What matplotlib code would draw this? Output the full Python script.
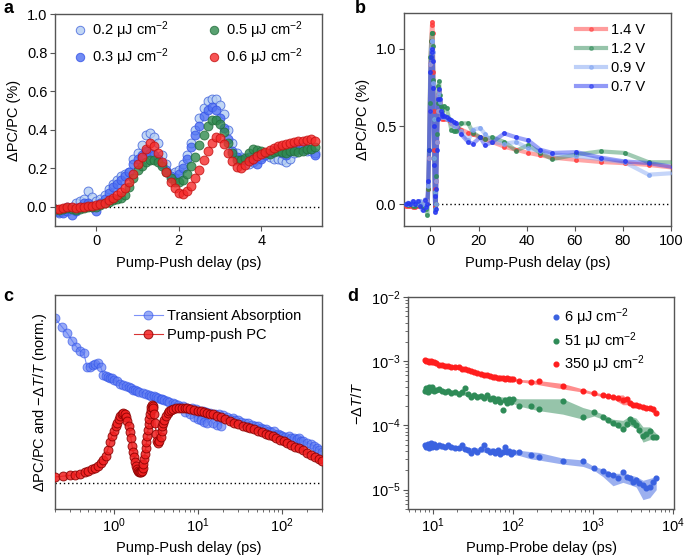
import numpy as np
import matplotlib
matplotlib.use("Agg")
import matplotlib.pyplot as plt
from matplotlib.lines import Line2D

plt.rcParams['font.family'] = ['Liberation Sans', 'DejaVu Sans']
plt.rcParams['mathtext.fontset'] = 'custom'
plt.rcParams['mathtext.rm'] = 'Liberation Sans'
plt.rcParams['mathtext.it'] = 'Liberation Sans:italic'
plt.rcParams['mathtext.bf'] = 'Liberation Sans:bold'
plt.rcParams['font.size'] = 10.5
plt.rcParams['axes.unicode_minus'] = True

# ---------------- Panel a data ----------------
a_delay = np.round(np.arange(-1.0, 5.31, 0.1), 2)
a_02 = [-0.01, -0.03, -0.02, 0.0, 0.0, 0.02, 0.03, 0.04, 0.08, 0.05,
        0.03, 0.04, 0.06, 0.09, 0.12, 0.14, 0.16, 0.17, 0.18, 0.25,
        0.28, 0.32, 0.37, 0.38, 0.36, 0.33, 0.27, 0.22, 0.17, 0.18,
        0.19, 0.22, 0.27, 0.33, 0.40, 0.46, 0.51, 0.55, 0.56, 0.56,
        0.53, 0.48, 0.40, 0.33, 0.28, 0.26, 0.24, 0.22, 0.23, 0.25,
        0.26, 0.27, 0.26, 0.25, 0.25, 0.24, 0.23, 0.25, 0.28, 0.30,
        0.30, 0.29, 0.29, 0.28]
a_03 = [-0.02, -0.025, -0.03, -0.02, -0.045, -0.02, 0.0, 0.02, 0.02, 0.0,
        -0.02, 0.02, 0.04, 0.07, 0.10, 0.12, 0.14, 0.16, 0.18, 0.22,
        0.25, 0.27, 0.29, 0.28, 0.27, 0.25, 0.22, 0.19, 0.16, 0.15,
        0.17, 0.20, 0.25, 0.31, 0.37, 0.42, 0.47, 0.50, 0.52, 0.50,
        0.46, 0.41, 0.35, 0.29, 0.26, 0.25, 0.24, 0.26, 0.24, 0.22,
        0.25, 0.27, 0.28, 0.29, 0.30, 0.28, 0.27, 0.29, 0.30, 0.31,
        0.31, 0.30, 0.30, 0.27]
a_05 = [-0.01, -0.015, -0.01, -0.005, -0.01, -0.015, -0.01, -0.005, 0.0, 0.0,
        0.0, 0.01, 0.02, 0.025, 0.035, 0.04, 0.045, 0.06, 0.10, 0.15,
        0.19, 0.21, 0.23, 0.24, 0.24, 0.23, 0.21, 0.18, 0.15, 0.13,
        0.13, 0.14, 0.17, 0.21, 0.26, 0.32, 0.37, 0.42, 0.45, 0.45,
        0.43, 0.39, 0.33, 0.28, 0.245, 0.24, 0.255, 0.28, 0.30, 0.295,
        0.29, 0.28, 0.275, 0.285, 0.29, 0.285, 0.28, 0.29, 0.29, 0.285,
        0.29, 0.30, 0.30, 0.31]
a_06 = [-0.01, -0.01, -0.005, 0.0, 0.0, -0.005, 0.0, 0.0, 0.005, 0.005,
        0.01, 0.015, 0.02, 0.035, 0.045, 0.06, 0.075, 0.095, 0.13, 0.17,
        0.22, 0.26, 0.30, 0.33, 0.315, 0.28, 0.23, 0.18, 0.13, 0.095,
        0.072, 0.065, 0.08, 0.11, 0.15, 0.19, 0.24, 0.29, 0.33, 0.36,
        0.355, 0.325, 0.28, 0.235, 0.205, 0.20, 0.215, 0.235, 0.25, 0.265,
        0.275, 0.285, 0.295, 0.305, 0.315, 0.32, 0.325, 0.33, 0.335, 0.34,
        0.34, 0.345, 0.35, 0.34]

# ---------------- Panel b data ----------------
b_delay = [-10.3, -9.3, -8.3, -7.3, -6.3, -5.3, -4.3, -3.3, -2.3,
           -1.8, -1.3, -0.9, -0.6, -0.3,
           0.0, 0.3, 0.6, 0.8, 1.0, 1.2, 1.4, 1.6, 1.8, 2.0, 2.2, 2.4, 2.7, 3.0, 3.3, 3.6, 3.9, 4.2, 4.6, 5.0,
           5.7, 6.7, 7.7, 8.7, 9.7, 10.7,
           12.7, 15.7, 17.7, 20.7, 22.7, 25.7,
           30.7, 35.7, 40.7, 45.7, 50.7,
           60.7, 70.7, 80.7, 90.7, 100.7]
b_14 = [-0.01, -0.01, -0.01, -0.015, -0.02, -0.01, -0.005, 0.0, 0.0,
        0.0, 0.02, 0.1, 0.3, 0.6,
        0.9, 1.05, 1.15, 1.17, 1.1, 0.85, 0.6, 0.35, 0.1, -0.02, 0.0, 0.15, 0.4, 0.6, 0.7, 0.72, 0.66, 0.6, 0.56, 0.55,
        0.55, 0.55, 0.54, 0.52, 0.51, 0.50,
        0.48, 0.46, 0.45, 0.43, 0.42, 0.40,
        0.37, 0.35, 0.33, 0.315, 0.30,
        0.285, 0.272, 0.264, 0.253, 0.236]
b_12 = [0.0, -0.005, 0.0, -0.01, -0.01, 0.0, 0.0, -0.02, -0.01,
        -0.03, -0.07, 0.1, 0.35, 0.65,
        0.95, 1.05, 1.1, 1.1, 1.02, 0.8, 0.55, 0.3, 0.08, -0.03, 0.0, 0.18, 0.45, 0.65, 0.76, 0.79, 0.7, 0.63, 0.6, 0.62,
        0.63, 0.62, 0.55, 0.48, 0.47, 0.47,
        0.52, 0.52, 0.46, 0.43, 0.42, 0.43,
        0.40, 0.345, 0.38, 0.33, 0.29,
        0.32, 0.34, 0.33, 0.27, 0.27]
b_09 = [0.0, 0.0, 0.01, 0.0, 0.01, 0.0, 0.02, 0.0, 0.0,
        -0.02, 0.02, 0.12, 0.3, 0.6,
        0.9, 1.0, 1.05, 1.05, 0.98, 0.78, 0.55, 0.3, 0.08, -0.03, 0.0, 0.15, 0.4, 0.6, 0.7, 0.72, 0.66, 0.6, 0.57, 0.56,
        0.56, 0.55, 0.55, 0.52, 0.50, 0.50,
        0.47, 0.41, 0.48, 0.49, 0.45, 0.40,
        0.39, 0.40, 0.36, 0.34, 0.32,
        0.31, 0.29, 0.27, 0.19, 0.20]
b_07 = [0.0, 0.01, 0.0, 0.02, 0.0, 0.02, -0.01, -0.04, 0.03,
        -0.02, 0.0, 0.15, 0.35, 0.6,
        0.85, 0.95, 1.0, 0.98, 0.92, 0.75, 0.5, 0.25, 0.05, -0.05, -0.03, 0.1, 0.35, 0.55, 0.68, 0.74, 0.68, 0.6, 0.58, 0.57,
        0.57, 0.56, 0.55, 0.54, 0.53, 0.52,
        0.45, 0.40, 0.39, 0.43, 0.38, 0.40,
        0.455, 0.43, 0.41, 0.35, 0.33,
        0.335, 0.30, 0.275, 0.265, 0.24]

# ---------------- Panel c data ----------------
c_ta_t = [0.2, 0.24, 0.28, 0.32, 0.36, 0.4, 0.44, 0.48, 0.52, 0.56, 0.6, 0.65, 0.7, 0.75, 0.8, 0.85, 0.9, 0.95,
          1.0, 1.1, 1.2, 1.3, 1.4, 1.5, 1.6, 1.7, 1.8, 1.9, 2.0, 2.2, 2.4, 2.6, 2.8, 3.0, 3.2, 3.4, 3.6, 3.8,
          4.0, 4.3, 4.6, 5.0, 5.4, 5.8, 6.2, 6.6, 7.0, 7.5, 8.0, 8.5, 9.0, 9.5, 10, 10.5, 11, 11.5, 12, 12.5,
          13, 14, 15, 16, 17, 18, 19, 20, 22, 24, 26, 28, 30, 33, 36, 40, 44, 48, 52, 56, 60, 65, 70, 75, 80,
          85, 90, 95, 100, 110, 120, 130, 140, 150, 160, 170, 180, 200, 220, 240, 260, 280, 300]
c_ta_v = [2.2, 2.09, 2.0, 1.9, 1.82, 1.76, 1.74, 1.55, 1.55, 1.58, 1.59, 1.6, 1.55, 1.45, 1.43, 1.42, 1.40, 1.40,
          1.38, 1.36, 1.33, 1.31, 1.30, 1.28, 1.27, 1.25, 1.25, 1.23, 1.22, 1.21, 1.19, 1.18, 1.17, 1.16, 1.15, 1.14, 1.13, 1.12,
          1.11, 1.10, 1.09, 1.07, 1.06, 1.05, 1.02, 1.03, 0.95, 1.01, 0.92, 1.0, 0.88, 0.99, 0.86, 0.97, 0.84, 0.96, 0.82, 0.95,
          0.81, 0.94, 0.80, 0.93, 0.78, 0.92, 0.77, 0.91, 0.88, 0.86, 0.87, 0.84, 0.85, 0.82, 0.80, 0.81, 0.78, 0.76, 0.77, 0.74, 0.72, 0.73, 0.70, 0.68, 0.70,
          0.65, 0.66, 0.64, 0.63, 0.62, 0.63, 0.61, 0.60, 0.59, 0.60, 0.57, 0.56, 0.54, 0.52, 0.50, 0.47, 0.44, 0.42]
c_pc_t = [0.2, 0.25, 0.3, 0.35, 0.4, 0.45, 0.5, 0.55, 0.6, 0.65, 0.7, 0.75, 0.8, 0.85, 0.9, 0.95,
          1.0, 1.05, 1.1, 1.15, 1.2, 1.25, 1.3, 1.35, 1.4, 1.45, 1.5, 1.55, 1.6, 1.65, 1.7, 1.75, 1.8, 1.85, 1.9, 1.95,
          2.0, 2.05, 2.1, 2.15, 2.2, 2.25, 2.3, 2.35, 2.4, 2.45, 2.5, 2.55, 2.6, 2.65, 2.7, 2.75, 2.8, 2.85, 2.9, 2.95,
          3.0, 3.1, 3.2, 3.3, 3.4, 3.5, 3.6, 3.7, 3.8, 3.9, 4.0, 4.2, 4.4, 4.6, 4.8, 5.0, 5.5, 6, 6.5, 7, 7.5, 8, 9,
          10, 11, 12, 13, 14, 15, 17, 19, 21, 24, 27, 30, 34, 38, 42, 47, 52, 58, 64, 70, 78, 86, 95,
          105, 115, 130, 145, 160, 180, 200, 225, 250, 275, 300]
c_pc_v = [0.085, 0.095, 0.105, 0.115, 0.13, 0.15, 0.17, 0.19, 0.21, 0.235, 0.265, 0.31, 0.37, 0.45, 0.55, 0.63,
          0.70, 0.76, 0.81, 0.86, 0.90, 0.93, 0.94, 0.92, 0.88, 0.83, 0.76, 0.68, 0.60, 0.50, 0.42, 0.35, 0.28, 0.23, 0.19, 0.16,
          0.15, 0.145, 0.15, 0.17, 0.21, 0.26, 0.32, 0.39, 0.47, 0.55, 0.63, 0.71, 0.79, 0.86, 0.93, 0.98, 1.02, 1.04, 1.03, 1.0,
          0.93, 0.80, 0.66, 0.57, 0.54, 0.56, 0.62, 0.70, 0.76, 0.81, 0.85, 0.90, 0.94, 0.96, 0.98, 0.99, 1.0, 1.0, 1.0, 1.0, 1.0, 0.99, 0.98,
          0.97, 0.96, 0.95, 0.94, 0.93, 0.92, 0.90, 0.88, 0.86, 0.83, 0.81, 0.79, 0.77, 0.755, 0.74, 0.72, 0.70, 0.68, 0.66, 0.645, 0.625, 0.60, 0.58,
          0.56, 0.54, 0.51, 0.49, 0.47, 0.44, 0.41, 0.38, 0.35, 0.33, 0.30]

# ---------------- Panel d data ----------------
d_t = [8, 8.3, 8.6, 9, 9.4, 9.8, 10.3,
       11, 12, 13, 14, 15.5, 17, 19, 21, 23, 25,
       27.5, 30, 33, 36, 40, 44, 48, 52, 56, 60,
       65, 70, 75, 80, 85, 90, 95, 100,
       120, 170, 210, 420, 750,
       1030, 1330, 1550, 1780, 2050, 2370, 2650, 2880, 3200, 3470,
       3800, 4220, 4650, 5130, 5600, 6170]
d_350 = [1.03e-3, 1.0e-3, 1.02e-3, 9.8e-4, 1.0e-3, 9.6e-4, 9.7e-4,
         9.3e-4, 8.8e-4, 8.6e-4, 8.5e-4, 8.3e-4, 8.2e-4, 8.0e-4, 8.1e-4, 7.7e-4, 7.6e-4,
         7.3e-4, 7.1e-4, 6.9e-4, 6.6e-4, 6.4e-4, 6.2e-4, 6.1e-4, 5.9e-4, 5.7e-4, 5.6e-4,
         5.5e-4, 5.4e-4, 5.5e-4, 5.3e-4, 5.4e-4, 5.2e-4, 5.3e-4, 5.2e-4,
         5.0e-4, 4.8e-4, 4.9e-4, 4.1e-4, 3.5e-4,
         3.2e-4, 3.0e-4, 2.9e-4, 2.8e-4, 2.65e-4, 2.5e-4, 2.6e-4, 2.2e-4, 2.1e-4, 2.05e-4,
         2.0e-4, 1.95e-4, 1.85e-4, 1.9e-4, 1.8e-4, 1.55e-4]
d_51 = [3.4e-4, 3.8e-4, 3.3e-4, 4.0e-4, 3.6e-4, 3.9e-4, 3.5e-4,
        3.6e-4, 3.7e-4, 3.4e-4, 3.3e-4, 3.5e-4, 3.2e-4, 3.3e-4, 3.1e-4, 3.3e-4, 3.8e-4,
        3.1e-4, 2.8e-4, 3.0e-4, 2.8e-4, 2.9e-4, 2.7e-4, 3.0e-4, 2.6e-4, 2.7e-4, 2.4e-4,
        2.6e-4, 2.3e-4, 1.75e-4, 2.5e-4, 2.2e-4, 2.6e-4, 2.3e-4, 2.6e-4,
        2.0e-4, 2.0e-4, 1.8e-4, 2.4e-4, 1.35e-4,
        1.6e-4, 1.35e-4, 1.2e-4, 1.1e-4, 1.0e-4, 8.8e-5, 1.05e-4, 1.26e-4, 1.15e-4, 1.0e-4,
        8.5e-5, 6.9e-5, 7.3e-5, 8.3e-5, 6.5e-5, 6.7e-5]
d_6 = [5.0e-5, 4.6e-5, 5.2e-5, 4.4e-5, 5.3e-5, 4.7e-5, 5.1e-5,
       4.6e-5, 4.9e-5, 4.8e-5, 4.7e-5, 4.9e-5, 4.6e-5, 4.4e-5, 4.5e-5, 4.9e-5, 4.3e-5,
       4.1e-5, 3.7e-5, 4.1e-5, 3.9e-5, 4.3e-5, 4.9e-5, 4.1e-5, 3.8e-5, 4.0e-5, 3.7e-5,
       4.1e-5, 3.6e-5, 3.9e-5, 4.6e-5, 3.8e-5, 4.0e-5, 3.6e-5, 3.9e-5,
       3.8e-5, 3.5e-5, 3.2e-5, 2.75e-5, 2.75e-5,
       2.2e-5, 1.95e-5, 1.75e-5, 1.67e-5, 1.5e-5, 1.9e-5, 1.55e-5, 1.5e-5, 1.3e-5, 1.4e-5,
       1.25e-5, 1.17e-5, 1.05e-5, 1.1e-5, 1.3e-5, 1.5e-5]

band_t = [8, 10, 15, 20, 30, 50, 70, 100, 120, 170, 210, 420, 750, 1030, 1330, 1780, 2370, 2880, 3470, 4220, 5130, 6170]
band_350_lo = [0.97e-3, 0.93e-3, 0.82e-3, 0.78e-3, 0.69e-3, 0.58e-3, 0.53e-3, 0.50e-3, 0.48e-3, 0.45e-3, 0.43e-3,
               0.37e-3, 0.33e-3, 0.30e-3, 0.28e-3, 0.26e-3, 0.21e-3, 0.21e-3, 0.19e-3, 0.18e-3, 0.17e-3, 0.145e-3]
band_350_hi = [1.05e-3, 1.0e-3, 0.88e-3, 0.84e-3, 0.74e-3, 0.63e-3, 0.57e-3, 0.54e-3, 0.52e-3, 0.51e-3, 0.50e-3,
               0.45e-3, 0.37e-3, 0.33e-3, 0.31e-3, 0.29e-3, 0.30e-3, 0.24e-3, 0.22e-3, 0.20e-3, 0.195e-3, 0.165e-3]
band_51_lo = [3.1e-4, 3.3e-4, 3.2e-4, 3.1e-4, 2.8e-4, 2.6e-4, 2.3e-4, 2.2e-4, 2.0e-4, 1.8e-4, 1.7e-4,
              1.5e-4, 1.25e-4, 1.4e-4, 1.25e-4, 1.0e-4, 0.85e-4, 1.0e-4, 0.9e-4, 0.55e-4, 0.6e-4, 0.6e-4]
band_51_hi = [3.9e-4, 4.0e-4, 3.6e-4, 3.5e-4, 3.2e-4, 3.0e-4, 2.8e-4, 2.7e-4, 2.6e-4, 2.6e-4, 2.6e-4,
              2.6e-4, 1.9e-4, 1.7e-4, 1.5e-4, 1.25e-4, 1.2e-4, 1.4e-4, 1.3e-4, 0.95e-4, 0.95e-4, 0.75e-4]
band_6_lo = [4.3e-5, 4.3e-5, 4.3e-5, 4.2e-5, 3.9e-5, 3.8e-5, 3.6e-5, 3.5e-5, 3.4e-5, 3.0e-5, 2.9e-5,
             2.5e-5, 2.3e-5, 2.0e-5, 1.6e-5, 1.15e-5, 1.3e-5, 1.2e-5, 1.1e-5, 0.7e-5, 0.75e-5, 1.0e-5]
band_6_hi = [5.3e-5, 5.2e-5, 5.0e-5, 4.9e-5, 4.5e-5, 4.5e-5, 4.3e-5, 4.2e-5, 4.1e-5, 3.9e-5, 3.8e-5,
             3.1e-5, 2.9e-5, 2.3e-5, 2.1e-5, 1.8e-5, 1.8e-5, 1.7e-5, 1.6e-5, 1.4e-5, 1.5e-5, 1.6e-5]

# ---------------- Figure ----------------
W, H = 685, 557
fig = plt.figure(figsize=(W / 100, H / 100), dpi=100)

def px_axes(l, t, r, b):
    return fig.add_axes([l / W, 1 - b / H, (r - l) / W, (b - t) / H])

SPINE = '#555555'

def style(ax):
    for s in ax.spines.values():
        s.set_color(SPINE)
        s.set_linewidth(1.0)
    ax.tick_params(direction='out', length=3.5, width=0.8, color=SPINE, labelsize=10.5, pad=2)
    ax.tick_params(which='minor', direction='out', length=2, width=0.6, color=SPINE)

# ---- a ----
axa = px_axes(55, 14, 322, 226)
style(axa)
axa.axhline(0, color='black', ls=(0, (1, 2)), lw=1.0, zorder=1)
sets_a = [(a_02, '#b3cdf2', '#4466dd', '0.2 μJ cm$^{-2}$'),
          (a_03, '#4d6ff2', '#3553e6', '0.3 μJ cm$^{-2}$'),
          (a_05, '#2f8a4e', '#236e3c', '0.5 μJ cm$^{-2}$'),
          (a_06, '#f52a2a', '#c41010', '0.6 μJ cm$^{-2}$')]
handles_a = []
for vals, fc, ec, lab in sets_a:
    h, = axa.plot(a_delay, vals, ls='none', marker='o', ms=6.4, mfc=fc, mec=ec, mew=0.7, alpha=0.8, label=lab)
    handles_a.append(h)
axa.set_xlim(-1.0, 5.47)
axa.set_ylim(-0.1, 1.0)
axa.set_xticks([0, 2, 4])
axa.set_yticks([0.0, 0.2, 0.4, 0.6, 0.8, 1.0])
axa.yaxis.set_major_formatter(matplotlib.ticker.FormatStrFormatter('%.1f'))
axa.set_xlabel('Pump-Push delay (ps)', labelpad=6)
axa.set_ylabel('ΔPC/PC (%)', labelpad=4)
axa.legend(handles=handles_a, ncol=2, loc='upper left', bbox_to_anchor=(0.045, 1.0), frameon=False,
           handlelength=1.0, handletextpad=0.32, columnspacing=2.6, labelspacing=0.35, borderaxespad=0.0,
           fontsize=10.5, markerscale=0.95)

# ---- b ----
axb = px_axes(404, 13, 671, 226)
style(axb)
axb.axhline(0, color='black', ls=(0, (1, 2)), lw=1.0, zorder=1)
sets_b = [(b_14, '#ff3a3a', '1.4 V'), (b_12, '#2e8b57', '1.2 V'),
          (b_09, '#7fa3f2', '0.9 V'), (b_07, '#2535f0', '0.7 V')]
hb = []
for vals, col, lab in sets_b:
    axb.plot(b_delay, vals, color=col, lw=3.0, alpha=0.45, solid_capstyle='round', zorder=2)
    axb.plot(b_delay, vals, ls='none', marker='o', ms=2.6, color=col, alpha=0.75, zorder=3)
    hb.append(Line2D([0], [0], color=col, lw=3.0, alpha=0.5, marker='o', ms=2.6, mfc=col, mec=col))
axb.set_xlim(-11, 100)
axb.set_ylim(-0.14, 1.23)
axb.set_xticks([0, 20, 40, 60, 80, 100])
axb.set_yticks([0.0, 0.5, 1.0])
axb.yaxis.set_major_formatter(matplotlib.ticker.FormatStrFormatter('%.1f'))
axb.set_xlabel('Pump-Push delay (ps)', labelpad=6)
axb.set_ylabel('ΔPC/PC (%)', labelpad=4)
axb.legend(hb, [s[2] for s in sets_b], loc='upper right', bbox_to_anchor=(0.925, 0.98), frameon=False,
           handlelength=2.05, handletextpad=0.34, labelspacing=0.35, borderaxespad=0.0, fontsize=10.5)

# ---- c ----
axc = px_axes(55, 295, 322, 509)
style(axc)
axc.set_xscale('log')
axc.axhline(0, color='black', ls=(0, (1, 2)), lw=1.0, zorder=1)
hta, = axc.plot(c_ta_t, c_ta_v, color='#2e50f5', lw=0.8, marker='o', ms=6.4, mfc='#5a78f2', mec='#2f52e8',
                mew=0.7, alpha=0.62, zorder=2)
hpc, = axc.plot(c_pc_t, c_pc_v, color='#d01010', lw=0.8, marker='o', ms=6.4, mfc='#f02020', mec='#8a0000',
                mew=0.7, alpha=0.85, zorder=3)
axc.set_xlim(0.2, 300)
axc.set_ylim(-0.343, 2.51)
axc.set_yticks([])
axc.set_xlabel('Pump-Push delay (ps)', labelpad=4)
axc.set_ylabel('ΔPC/PC and −Δ$T$/$T$ (norm.)', labelpad=4)
axc.legend([hta, hpc], ['Transient Absorption', 'Pump-push PC'], loc='upper right',
           bbox_to_anchor=(0.946, 0.963), frameon=False,
           handlelength=2.0, handletextpad=0.32, labelspacing=0.35, borderaxespad=0.0, fontsize=10.5)

# ---- d ----
axd = px_axes(408, 297, 674, 509)
style(axd)
axd.set_xscale('log')
axd.set_yscale('log')
sets_d = [(d_6, band_6_lo, band_6_hi, '#3a62e0', '6 μJ cm$^{-2}$'),
          (d_51, band_51_lo, band_51_hi, '#2e8b57', '51 μJ cm$^{-2}$'),
          (d_350, band_350_lo, band_350_hi, '#ff1e1e', '350 μJ cm$^{-2}$')]
hd = []
for vals, lo, hi, col, lab in sets_d:
    axd.fill_between(band_t, lo, hi, color=col, alpha=0.5, lw=0, zorder=2)
    h, = axd.plot(d_t, vals, ls='none', marker='o', ms=3.4, color=col, zorder=3, label=lab)
    hd.append(h)
axd.set_xlim(4.9, 1.03e4)
axd.set_ylim(5e-6, 1e-2)
axd.set_xlabel('Pump-Probe delay (ps)', labelpad=4)
axd.set_ylabel('−Δ$T$/$T$', labelpad=4)
axd.legend(handles=hd, loc='upper right', bbox_to_anchor=(0.913, 0.981), frameon=False,
           handlelength=0.8, handletextpad=0.17, labelspacing=0.12, borderaxespad=0.0, fontsize=10.5)

# panel letters
for (x, y, s) in [(3, 13, 'a'), (355, 13, 'b'), (3, 301, 'c'), (347, 301, 'd')]:
    fig.text(x / W, 1 - y / H, s, fontsize=13, fontweight='bold', ha='left', va='baseline')

fig.savefig('out.png', dpi=100)
